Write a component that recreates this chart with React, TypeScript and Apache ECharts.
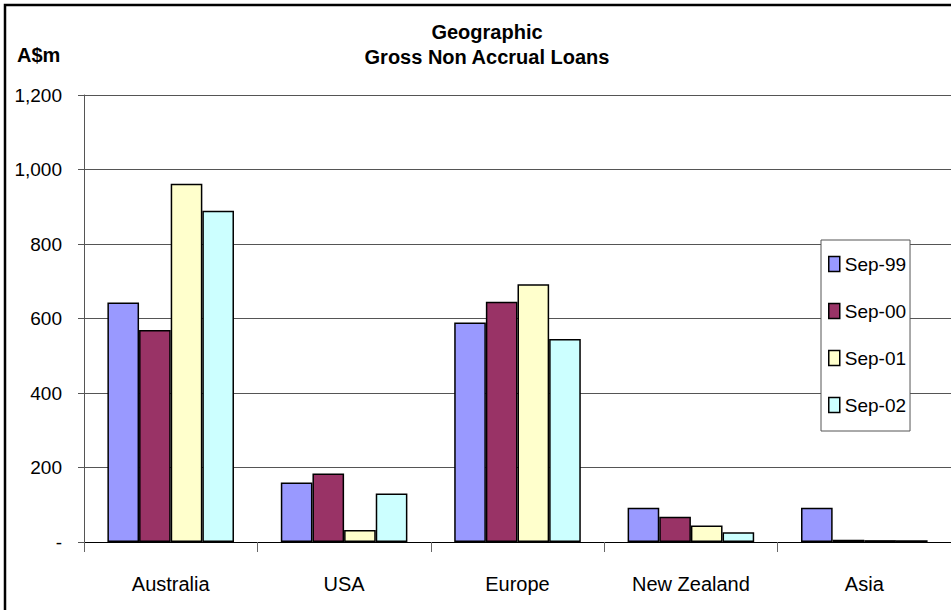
import React, { useEffect, useRef } from "react";
import * as echarts from "echarts";

const categories = ["Australia", "USA", "Europe", "New Zealand", "Asia"];
const seriesNames = ["Sep-99", "Sep-00", "Sep-01", "Sep-02"];
const sep99 = [643, 160, 589, 92, 92];
const sep00 = [569, 184, 645, 68, 6];
const sep01 = [962, 32, 692, 44, 5];
const sep02 = [889, 130, 545, 26, 5];
const yTicks = [0, 200, 400, 600, 800, 1000, 1200];
const colors = ["#9999FF", "#993366", "#FFFFCC", "#CCFFFF"];

const FONT = "'Liberation Sans', Arial, sans-serif";

export default function App() {
  const ref = useRef<HTMLDivElement>(null);
  useEffect(() => {
    document.body.style.margin = "0";
    const chart = echarts.init(ref.current!, null, { renderer: "svg" });
    const data = [sep99, sep00, sep01, sep02];
    chart.setOption({
      animation: false,
      backgroundColor: "#ffffff",
      textStyle: { fontFamily: FONT },
      grid: { left: 84, top: 95, bottom: 68, right: -12, containLabel: false },
      legend: {
        orient: "vertical",
        left: 821,
        top: 240,
        data: seriesNames,
        icon: "rect",
        itemWidth: 11,
        itemHeight: 15,
        itemGap: 27,
        padding: [14, 4, 16, 7],
        backgroundColor: "#ffffff",
        borderColor: "#555555",
        borderWidth: 1,
        textStyle: { fontFamily: FONT, fontSize: 19, color: "#000", lineHeight: 20 },
        itemStyle: { borderColor: "#000", borderWidth: 1.5 },
      },
      xAxis: {
        type: "category",
        data: categories,
        axisLine: { lineStyle: { color: "#000", width: 1 } },
        axisTick: { show: true, length: 10, lineStyle: { color: "#666" } },
        axisLabel: { fontFamily: FONT, fontSize: 20, color: "#000", margin: 32, interval: 0 },
      },
      yAxis: {
        type: "value",
        min: yTicks[0],
        max: yTicks[yTicks.length - 1],
        interval: 200,
        axisLine: { show: true, lineStyle: { color: "#555", width: 1 } },
        axisTick: { show: true, length: 6, lineStyle: { color: "#555" } },
        splitLine: { lineStyle: { color: "#555", width: 1 } },
        axisLabel: {
          fontFamily: FONT,
          fontSize: 19,
          color: "#000",
          margin: 22,
          formatter: (v: number) => (v === 0 ? "-" : v.toLocaleString("en-US")),
        },
      },
      series: seriesNames.map((name, i) => ({
        name,
        type: "bar",
        data: data[i],
        barGap: "0%",
        barCategoryGap: "27%",
        itemStyle: { color: colors[i], borderColor: "#000", borderWidth: 1.5 },
      })),
      graphic: [
        {
          type: "rect",
          shape: { x: 5, y: 5, width: 1000, height: 700 },
          style: { fill: "none", stroke: "#000", lineWidth: 2.5 },
          silent: true,
        },
        {
          type: "text",
          x: 17,
          y: 55,
          style: { text: "A$m", font: "bold 20px " + FONT, fill: "#000", verticalAlign: "middle" },
        },
        {
          type: "text",
          x: 487,
          y: 32,
          style: { text: "Geographic", font: "bold 20px " + FONT, fill: "#000", align: "center", verticalAlign: "middle" },
        },
        {
          type: "text",
          x: 487,
          y: 57,
          style: { text: "Gross Non Accrual Loans", font: "bold 20px " + FONT, fill: "#000", align: "center", verticalAlign: "middle" },
        },
      ],
    });
    return () => chart.dispose();
  }, []);
  return <div ref={ref} style={{ width: 951, height: 610 }} />;
}
